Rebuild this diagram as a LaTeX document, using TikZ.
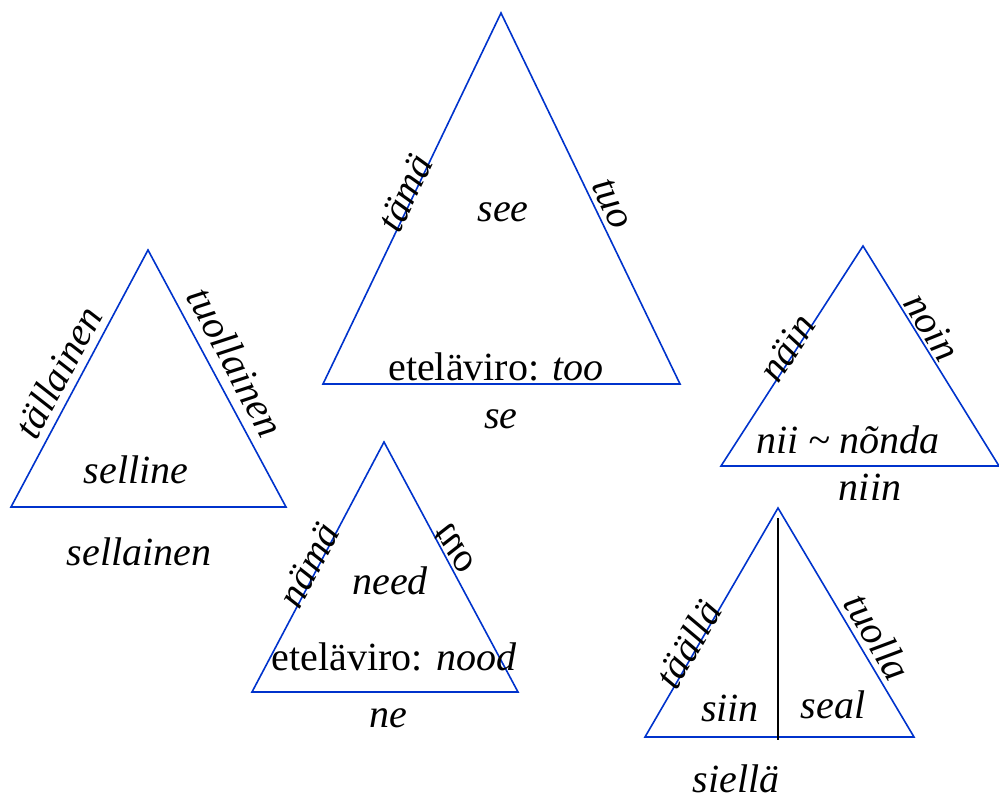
\documentclass[tikz,border=0pt]{standalone}
\usepackage{fontspec}
\setmainfont{Liberation Serif}
\usetikzlibrary{positioning}
\definecolor{edgeblue}{HTML}{0033CC}

\begin{document}
\begin{tikzpicture}[
    x=1pt, y=-1pt,
    tri/.style={draw=edgeblue, line width=1.6pt, line join=miter},
    word/.style={font=\fontsize{40}{44}\selectfont\itshape, inner sep=0pt},
    split/.style={draw=black, line width=1.4pt}
]
\useasboundingbox (0,0) rectangle (999,799);

% ---- se ----
\coordinate (seT) at (501,13);
\coordinate (seL) at (323,384);
\coordinate (seR) at (680,384);
\draw[tri] (seL) -- (seT) -- (seR) -- cycle;
\node[word, rotate=64.4] (tama) at (405,193) {tämä};
\node[word, rotate=-64.4] (tuo) at (612,204) {tuo};
\node[word] (see) at (503,212) {see};
\node[word] (too) at (496,367) {{\upshape eteläviro:} too};
\node[word] (se) at (501,419) {se};

% ---- sellainen ----
\coordinate (selT) at (148,250);
\coordinate (selL) at (11,507);
\coordinate (selR) at (286,507);
\draw[tri] (selL) -- (selT) -- (selR) -- cycle;
\node[word, rotate=61.9] (tallainen) at (58,372) {tällainen};
\node[word, rotate=-61.9] (tuollainen) at (236,362) {tuollainen};
\node[word] (selline) at (136,470) {selline};
\node[word] (sellainen) at (139,552) {sellainen};

% ---- ne ----
\coordinate (neT) at (384,442);
\coordinate (neL) at (252,692);
\coordinate (neR) at (518,692);
\draw[tri] (neL) -- (neT) -- (neR) -- cycle;
\node[word, rotate=62] (nama) at (309,565) {nämä};
\node[word, rotate=-62] (tuoflip) at (454,549) {\scalebox{1}[-1]{tuo}};
\node[word] (need) at (390,581) {need};
\node[word] (nood) at (394,657) {{\upshape eteläviro:} nood};
\node[word] (ne) at (388,718) {ne};

% ---- niin ----
\coordinate (niT) at (863,246);
\coordinate (niL) at (721,466);
\coordinate (niR) at (999,466);
\draw[tri] (niL) -- (niT) -- (niR) -- cycle;
\node[word, rotate=57.3] (nain) at (787,348) {näin};
\node[word, rotate=-58] (noin) at (932,327) {noin};
\node[word] (nonda) at (848,440) {nii \textasciitilde{} nõnda};
\node[word] (niin) at (870,487) {niin};

% ---- siellä ----
\coordinate (siT) at (778,508);
\coordinate (siL) at (645,737);
\coordinate (siR) at (914,737);
\coordinate (midT) at (778,518);
\coordinate (midB) at (778,740);
\draw[tri] (siL) -- (siT) -- (siR) -- cycle;
\draw[split] (midT) -- (midB);
\node[word, rotate=59.8] (taalla) at (688,644) {täällä};
\node[word, rotate=-59.5] (tuolla) at (878,637) {tuolla};
\node[word] (siin) at (730,708) {siin};
\node[word] (seal) at (833,705) {seal};
\node[word] (siella) at (736,779) {siellä};

\end{tikzpicture}
\end{document}
